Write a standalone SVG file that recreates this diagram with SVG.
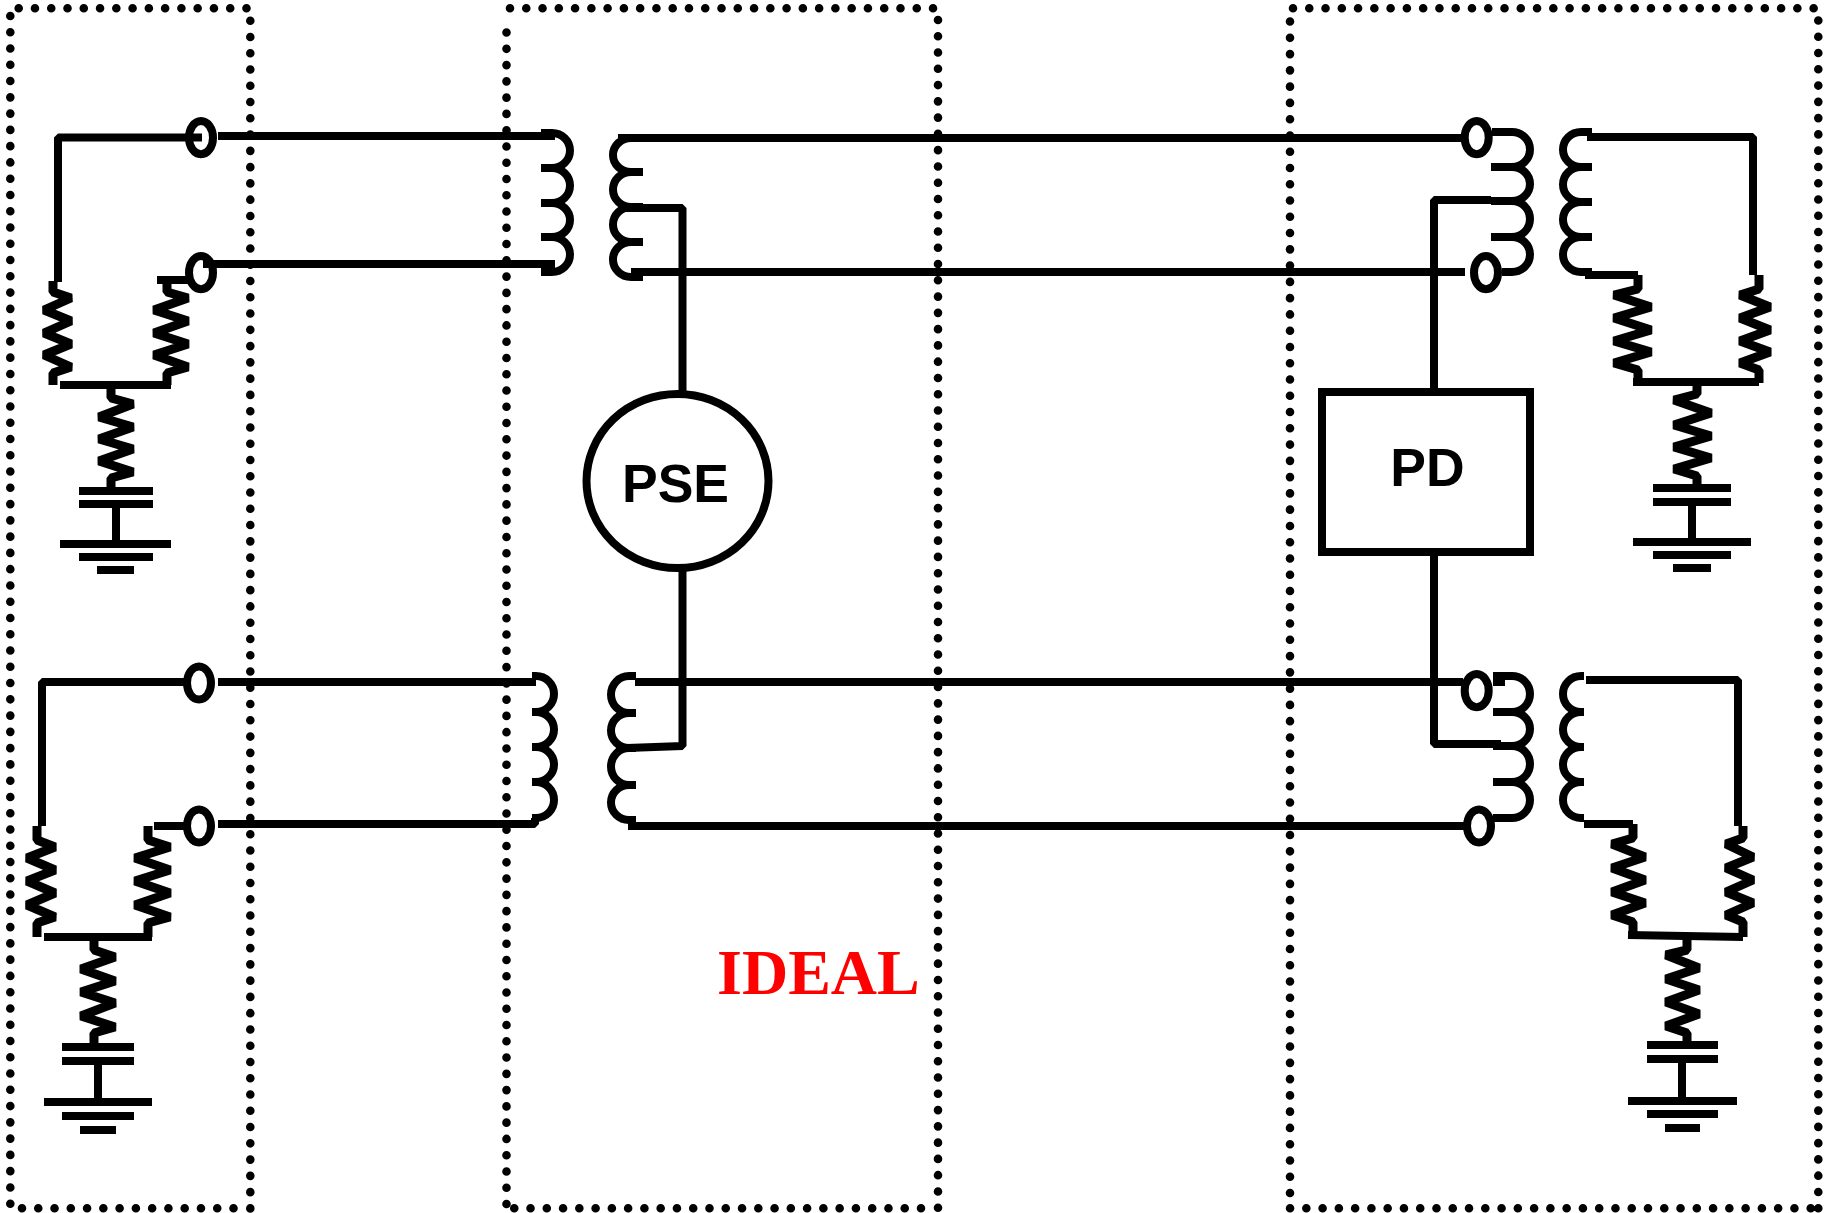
<svg xmlns="http://www.w3.org/2000/svg" width="1825" height="1213" viewBox="0 0 1825 1213">
<style>
.w{fill:none;stroke:#000;stroke-width:8;stroke-linejoin:bevel}
.z{stroke-width:9}
.d{fill:none;stroke:#000;stroke-width:8.6;stroke-linecap:round;stroke-dasharray:0 16.27}
.t{font-family:"Liberation Sans",Arial,sans-serif;font-weight:700;font-size:53.5px;text-anchor:middle;fill:#000}
.r{font-family:"Liberation Serif","Times New Roman",serif;font-weight:700;font-size:64px;fill:#f00}
</style>
<rect width="1825" height="1213" fill="#fff"/>
<g id="boundaries">
<path class="d" d="M18.7 8.3H247M250.3 20.7V1209M233.5 1208.3H21M10.3 1203.7V15"/>
<path class="d" d="M510 8.3H935M938 20V1209M921 1208.3H506M506.5 1204V18"/>
<path class="d" d="M1293 8.3H1815M1818.3 20.5V1209M1810.7 1208.3H1289M1290 1193V18"/>
</g>
<g id="connectors">
<path class="w" d="M58 282V137.5H202"/>
<path class="w" d="M218 136H555"/>
<path class="w" d="M203 264H555"/>
<path class="w" d="M618 138H1462"/>
<path class="w" d="M631 272H1465"/>
<path class="w" d="M625 208H682.5V392"/>
<path class="w" d="M682.5 570V746L627 748"/>
<path class="w" d="M42 826V682H184"/>
<path class="w" d="M218 682H536"/>
<path class="w" d="M218 824H535V818"/>
<path class="w" d="M154 826H184"/>
<path class="w" d="M635 682H1463"/>
<path class="w" d="M628 826H1465M632 826V820"/>
<path class="w" d="M1434 390V200H1491"/>
<path class="w" d="M1434 554V744H1501"/>
<path class="w" d="M1587 137H1753V275"/>
<path class="w" d="M1585 275H1638"/>
<path class="w" d="M1586 680H1738V826"/>
<path class="w" d="M1584 824H1633"/>
<path class="w" d="M157 280H188"/>
<path class="w" d="M60 385H171"/>
<path class="w" d="M44 937H152"/>
<path class="w" d="M1633 382H1759"/>
<path class="w" d="M1628 935L1743 937"/>
<path class="w" d="M1493 682H1505"/>
</g>
<g id="port-tl1"><ellipse class="w" cx="201" cy="137.7" rx="12" ry="16.6"/></g>
<g id="port-tl2"><ellipse class="w" cx="201" cy="272.7" rx="12" ry="16.6"/></g>
<g id="port-bl1"><ellipse class="w" cx="199" cy="683" rx="12" ry="16.6"/></g>
<g id="port-bl2"><ellipse class="w" cx="199" cy="826" rx="12" ry="16.6"/></g>
<g id="port-tr1"><ellipse class="w" cx="1476.7" cy="137.7" rx="12" ry="16.6"/></g>
<g id="port-tr2"><ellipse class="w" cx="1486" cy="272.7" rx="12" ry="16.6"/></g>
<g id="port-br1"><ellipse class="w" cx="1476.7" cy="690.7" rx="12" ry="16.6"/></g>
<g id="port-br2"><ellipse class="w" cx="1479" cy="826" rx="12" ry="16.6"/></g>
<g id="coil-tl-a"><path class="w" d="M541 133H552A18 17.5 0 0 1 552 168H541M541 168H552A18 17.5 0 0 1 552 203H541M541 203H552A18 17 0 0 1 552 237H541M541 237H552A18 17.5 0 0 1 552 272H541"/></g>
<g id="coil-tl-b"><path class="w" d="M643 138H631A18 17 0 0 0 631 172H643M643 172H631A18 17.5 0 0 0 631 207H643M643 207H631A18 17.5 0 0 0 631 242H643M643 242H631A18 17.5 0 0 0 631 277H643"/></g>
<g id="coil-bl-a"><path class="w" d="M532 676H536A18 18 0 0 1 536 712H532M532 712H536A18 17.5 0 0 1 536 747H532M532 747H536A18 17.5 0 0 1 536 782H532M532 782H536A18 18 0 0 1 536 818H532"/></g>
<g id="coil-bl-b"><path class="w" d="M636 676H629A18 18.5 0 0 0 629 713H636M636 713H629A18 17.5 0 0 0 629 748H636M636 748H629A18 18.5 0 0 0 629 785H636M636 785H629A18 17.5 0 0 0 629 820H636"/></g>
<g id="coil-tr-a"><path class="w" d="M1492 132H1512A18 17.5 0 0 1 1512 167H1491M1491 167H1512A18 17 0 0 1 1512 201H1491M1491 201H1512A18 18 0 0 1 1512 237H1491M1491 237H1512A18 17.5 0 0 1 1512 272H1502"/></g>
<g id="coil-tr-b"><path class="w" d="M1592 132H1581A18 17.5 0 0 0 1581 167H1592M1592 167H1581A18 17.5 0 0 0 1581 202H1592M1592 202H1581A18 17.5 0 0 0 1581 237H1592M1592 237H1581A18 17.5 0 0 0 1581 272H1592"/></g>
<g id="coil-br-a"><path class="w" d="M1493 676H1512A18 18 0 0 1 1512 712H1493M1493 712H1512A18 17 0 0 1 1512 746H1493M1493 746H1512A18 18 0 0 1 1512 782H1493M1493 782H1512A18 18 0 0 1 1512 818H1493"/></g>
<g id="coil-br-b"><path class="w" d="M1584 676H1581A18 18 0 0 0 1581 712H1584M1584 712H1581A18 17.5 0 0 0 1581 747H1584M1584 747H1581A18 17.5 0 0 0 1581 782H1584M1584 782H1581A18 18 0 0 0 1581 818H1584"/></g>
<g id="res-tl1"><path class="w z" d="M53 281V292L71 298L44 310L71 321L44 333L71 344L44 355L71 367L53 373V385"/></g>
<g id="res-tl2"><path class="w z" d="M167 281V292L188 298L154 310L188 321L154 333L188 344L154 355L188 367L167 373V385"/></g>
<g id="res-tl3"><path class="w z" d="M111 385V398L133 404L99 417L133 427L99 439L133 449L99 461L133 472L111 478V490"/></g>
<g id="res-bl1"><path class="w z" d="M37 826V840L55 847L27 858L55 870L27 881L55 893L27 905L55 917L37 923V937"/></g>
<g id="res-bl2"><path class="w z" d="M148 826V840L170 847L135 858L170 870L135 881L170 893L135 905L170 917L148 923V937"/></g>
<g id="res-bl3"><path class="w z" d="M94 937V950L115 957L81 969L115 981L81 992L115 1003L81 1016L115 1027L94 1033V1047"/></g>
<g id="res-tr1"><path class="w z" d="M1638 275V289L1614 295L1651 307L1614 318L1651 330L1614 341L1651 352L1614 363L1638 370V383"/></g>
<g id="res-tr2"><path class="w z" d="M1759 275V289L1740 295L1770 307L1740 318L1770 330L1740 341L1770 352L1740 363L1759 370V383"/></g>
<g id="res-tr3"><path class="w z" d="M1697 382V394L1674 400L1711 413L1674 425L1711 436L1674 447L1711 458L1674 469L1697 476V488"/></g>
<g id="res-br1"><path class="w z" d="M1633 824V838L1612 844L1645 857L1612 868L1645 880L1612 892L1645 903L1612 915L1633 922V936"/></g>
<g id="res-br2"><path class="w z" d="M1743 826V838L1726 844L1753 857L1726 868L1753 880L1726 892L1753 903L1726 915L1743 922V937"/></g>
<g id="res-br3"><path class="w z" d="M1687 936V950L1666 955L1699 968L1666 979L1699 990L1666 1002L1699 1014L1666 1026L1687 1033V1045"/></g>
<g id="gnd-tl"><path class="w" d="M79 491H153M79 504H153M116 504V544M60 544H171M79 557H153M97 570H134"/></g>
<g id="gnd-bl"><path class="w" d="M62 1047H134M62 1061H134M98 1061V1102M44 1102H152M62 1116H134M80 1130H116"/></g>
<g id="gnd-tr"><path class="w" d="M1653 488H1731M1653 502H1731M1692 502V542M1633 542H1751M1653 555H1731M1673 568H1711"/></g>
<g id="gnd-br"><path class="w" d="M1647 1045H1718M1647 1059H1718M1682 1059V1101M1628 1101H1737M1647 1114H1718M1665 1128H1700"/></g>
<g id="pse"><ellipse class="w" cx="677.5" cy="481" rx="91" ry="87"/><text class="t" x="675.5" y="501.5">PSE</text></g>
<g id="pd"><rect class="w" x="1322" y="392" width="208" height="160" style="stroke-linejoin:miter"/><text class="t" x="1427.5" y="485.5">PD</text></g>
<g id="label"><text class="r" x="717" y="994">IDEAL</text></g>
</svg>
